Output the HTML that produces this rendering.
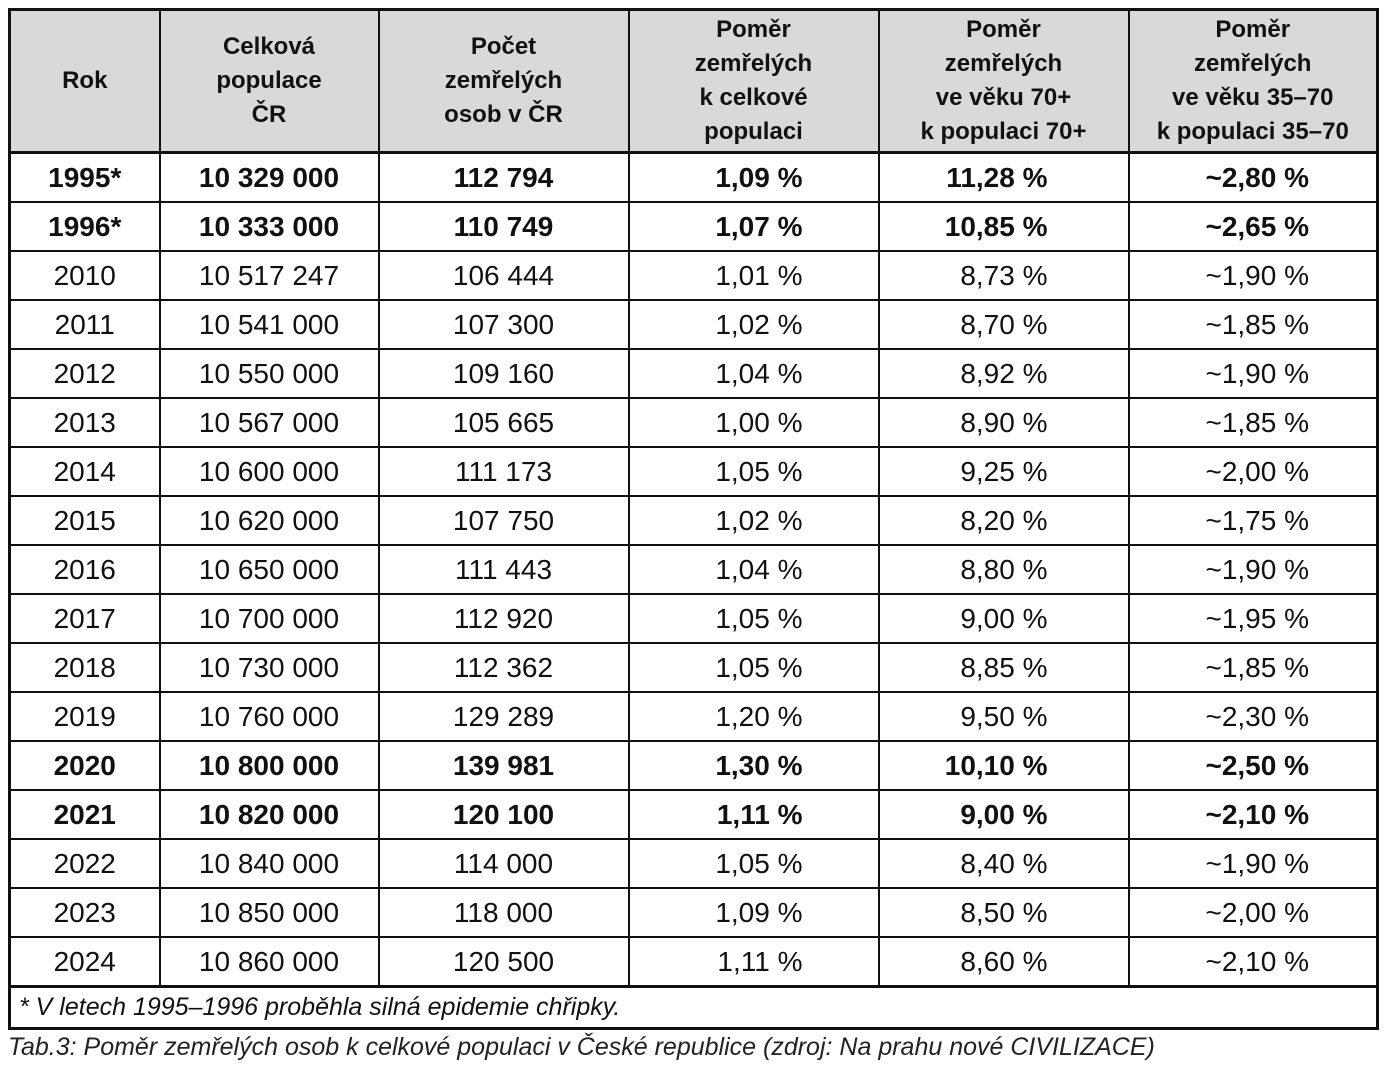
<!DOCTYPE html>
<html><head><meta charset="utf-8"><style>
html,body{margin:0;padding:0;background:#fff;width:1387px;height:1068px;overflow:hidden}
body{font-family:"Liberation Sans",sans-serif;color:#111}
table{position:absolute;left:8px;top:8px;width:1368px;border-collapse:collapse;table-layout:fixed;border:3px solid #111}
td,th{border:2px solid #111;padding:0;font-size:28px;text-align:center;height:47px;line-height:47px;white-space:nowrap}
th{background:#d9d9d9;font-size:24px;line-height:34px;height:140px;border-bottom:3px solid #111}
tr.b td{font-weight:bold}
td.r5{text-align:right;padding-right:80px}
td.r6{text-align:right;padding-right:67px}
td.r4{text-align:right;padding-right:75px}
td.fn{text-align:left;font-style:italic;font-size:25px;padding-left:8px;height:39px;line-height:39px;border-top:3px solid #111}
.cap{position:absolute;left:8px;top:1033px;font-style:italic;font-size:25px;color:#222}
</style></head><body>
<table>
<colgroup><col style="width:150px"><col style="width:219px"><col style="width:250px"><col style="width:250px"><col style="width:250px"><col style="width:249px"></colgroup>
<tr><th>Rok</th><th>Celková<br>populace<br>ČR</th><th>Počet<br>zemřelých<br>osob v ČR</th><th>Poměr<br>zemřelých<br>k celkové<br>populaci</th><th>Poměr<br>zemřelých<br>ve věku 70+<br>k populaci 70+</th><th>Poměr<br>zemřelých<br>ve věku 35–70<br>k populaci 35–70</th></tr>
<tr class="b"><td>1995*</td><td>10 329 000</td><td>112 794</td><td class="r4">1,09 %</td><td class="r5">11,28 %</td><td class="r6">~2,80 %</td></tr>
<tr class="b"><td>1996*</td><td>10 333 000</td><td>110 749</td><td class="r4">1,07 %</td><td class="r5">10,85 %</td><td class="r6">~2,65 %</td></tr>
<tr><td>2010</td><td>10 517 247</td><td>106 444</td><td class="r4">1,01 %</td><td class="r5">8,73 %</td><td class="r6">~1,90 %</td></tr>
<tr><td>2011</td><td>10 541 000</td><td>107 300</td><td class="r4">1,02 %</td><td class="r5">8,70 %</td><td class="r6">~1,85 %</td></tr>
<tr><td>2012</td><td>10 550 000</td><td>109 160</td><td class="r4">1,04 %</td><td class="r5">8,92 %</td><td class="r6">~1,90 %</td></tr>
<tr><td>2013</td><td>10 567 000</td><td>105 665</td><td class="r4">1,00 %</td><td class="r5">8,90 %</td><td class="r6">~1,85 %</td></tr>
<tr><td>2014</td><td>10 600 000</td><td>111 173</td><td class="r4">1,05 %</td><td class="r5">9,25 %</td><td class="r6">~2,00 %</td></tr>
<tr><td>2015</td><td>10 620 000</td><td>107 750</td><td class="r4">1,02 %</td><td class="r5">8,20 %</td><td class="r6">~1,75 %</td></tr>
<tr><td>2016</td><td>10 650 000</td><td>111 443</td><td class="r4">1,04 %</td><td class="r5">8,80 %</td><td class="r6">~1,90 %</td></tr>
<tr><td>2017</td><td>10 700 000</td><td>112 920</td><td class="r4">1,05 %</td><td class="r5">9,00 %</td><td class="r6">~1,95 %</td></tr>
<tr><td>2018</td><td>10 730 000</td><td>112 362</td><td class="r4">1,05 %</td><td class="r5">8,85 %</td><td class="r6">~1,85 %</td></tr>
<tr><td>2019</td><td>10 760 000</td><td>129 289</td><td class="r4">1,20 %</td><td class="r5">9,50 %</td><td class="r6">~2,30 %</td></tr>
<tr class="b"><td>2020</td><td>10 800 000</td><td>139 981</td><td class="r4">1,30 %</td><td class="r5">10,10 %</td><td class="r6">~2,50 %</td></tr>
<tr class="b"><td>2021</td><td>10 820 000</td><td>120 100</td><td class="r4">1,11 %</td><td class="r5">9,00 %</td><td class="r6">~2,10 %</td></tr>
<tr><td>2022</td><td>10 840 000</td><td>114 000</td><td class="r4">1,05 %</td><td class="r5">8,40 %</td><td class="r6">~1,90 %</td></tr>
<tr><td>2023</td><td>10 850 000</td><td>118 000</td><td class="r4">1,09 %</td><td class="r5">8,50 %</td><td class="r6">~2,00 %</td></tr>
<tr><td>2024</td><td>10 860 000</td><td>120 500</td><td class="r4">1,11 %</td><td class="r5">8,60 %</td><td class="r6">~2,10 %</td></tr>
<tr><td class="fn" colspan="6">* V letech 1995–1996 proběhla silná epidemie chřipky.</td></tr>
</table>
<div class="cap">Tab.3: Poměr zemřelých osob k celkové populaci v České republice (zdroj: Na prahu nové CIVILIZACE)</div>
</body></html>
